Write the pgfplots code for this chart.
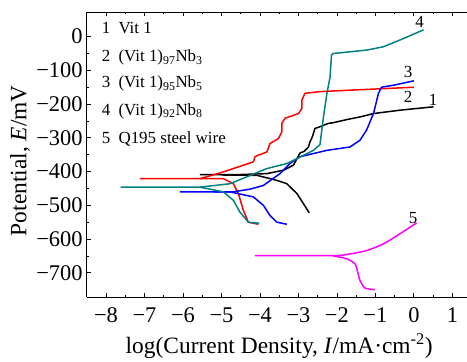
\documentclass[border=0pt]{standalone}
\usepackage{fontspec}
\setmainfont{Liberation Serif}
\usepackage{pgfplots}
\pgfplotsset{compat=1.18}
\definecolor{cteal}{RGB}{0,128,128}
\definecolor{cmag}{RGB}{255,0,255}
\definecolor{cblue}{RGB}{0,0,255}
\definecolor{cred}{RGB}{255,0,0}
\begin{document}
\begin{tikzpicture}
\begin{axis}[name=ax,
  scale only axis, width=380bp, height=285bp,
  xmin=-8.5, xmax=1.38, ymin=-773, ymax=72,
  axis x line=box, axis y line=left,
  axis line style={line width=1.2pt,-},
  tick align=inside, major tick length=4bp, minor tick length=2bp,
  xtick={-8,...,1}, xticklabels={−8,−7,−6,−5,−4,−3,−2,−1,0,1},
  ytick={-700,-600,...,0}, yticklabels={−700,−600,−500,−400,−300,−200,−100,0},
  minor x tick num=1, minor y tick num=1,
  tick style={line width=0.8pt, black},
  ticklabel style={font=\fontsize{22.5}{22.5}\selectfont},
  xticklabel style={anchor=base, yshift=-25bp},
  yticklabel style={anchor=east, xshift=-4bp, inner sep=0pt},
  xlabel={log(Current Density, \textit{I}/mA·cm\textsuperscript{-2})},
  ylabel={Potential, \textit{E}/mV},
  every axis x label/.style={at={(axis description cs:0.506,0)}, anchor=base, yshift=-55.7bp, font=\fontsize{23.5}{23.5}\selectfont},
  every axis y label/.style={at={(axis description cs:0,0.48)}, anchor=center, rotate=90, yshift=66.7bp, font=\fontsize{23.5}{23.5}\selectfont},
  every axis plot/.append style={line width=1.5pt, line join=round},
  clip=false,
]
% Curve 1 black
\addplot[black] coordinates {(-5.56,-409)(-4.6,-409)(-3.82,-406)(-3.39,-396)(-3.13,-381)(-2.96,-345)(-2.85,-340)(-2.74,-327)(-2.70,-312)(-2.65,-300)(-2.61,-287)(-2.57,-272)(-2.44,-267)(-2.22,-257)(-2.09,-255)(-1.75,-246)(-1.40,-238)(-1.05,-228)(-0.36,-218)(0.51,-208)};
\addplot[black] coordinates {(-5.0,-410)(-4.08,-411)(-3.56,-426)(-3.30,-436)(-3.04,-465)(-2.87,-495)(-2.72,-522)};
% Curve 2 red
\addplot[cred] coordinates {(-7.12,-421)(-5.56,-421)(-5.04,-404)(-4.69,-391)(-4.17,-371)(-4.13,-356)(-4.04,-351)(-3.82,-342)(-3.74,-317)(-3.52,-302)(-3.43,-282)(-3.43,-257)(-3.35,-242)(-3.00,-228)(-2.91,-213)(-2.91,-188)(-2.83,-168)(-2.44,-163)(-2.09,-161)(0.0,-150)};
\addplot[cred] coordinates {(-5.56,-421)(-4.95,-421)(-4.69,-436)(-4.56,-465)(-4.43,-515)(-4.30,-550)(-4.04,-556)};
% Curve 3 blue
\addplot[cblue] coordinates {(-6.08,-460)(-4.7,-460)(-4.26,-452)(-3.91,-441)(-3.48,-406)(-3.22,-376)(-2.96,-356)(-2.26,-337)(-1.66,-327)(-1.40,-307)(-1.23,-277)(-1.05,-228)(-0.92,-168)(-0.84,-150)(-0.53,-144)(0.0,-131)};
\addplot[cblue] coordinates {(-5.2,-460)(-4.78,-460)(-4.17,-475)(-3.91,-500)(-3.74,-530)(-3.56,-550)(-3.30,-556)};
% Curve 4 teal
\addplot[cteal] coordinates {(-7.62,-446)(-5.56,-446)(-4.78,-436)(-3.82,-391)(-3.30,-376)(-2.61,-337)(-2.44,-320)(-2.35,-238)(-2.26,-168)(-2.18,-121)(-2.14,-54)(-2.09,-50)(-1.23,-40)(-0.79,-30)(-0.36,-10)(0.25,20)};
\addplot[cteal] coordinates {(-5.56,-446)(-4.95,-460)(-4.69,-485)(-4.52,-520)(-4.30,-550)(-4.02,-553)};
% Curve 5 magenta
\addplot[cmag, smooth, tension=0.4] coordinates {(-4.13,-649)(-2.09,-649)(-1.66,-644)(-1.23,-634)(-0.79,-614)(-0.36,-584)(0.07,-552)};
\addplot[cmag, smooth, tension=0.4] coordinates {(-2.09,-650)(-1.75,-658)(-1.53,-673)(-1.47,-693)(-1.40,-723)(-1.27,-745)(-1.01,-750)};
% curve numbers
\begin{scope}[every node/.style={font=\fontsize{17}{17}\selectfont, inner sep=0pt}]
\node at (axis cs:0.15,44) {4};
\node at (axis cs:-0.15,-105) {3};
\node at (axis cs:-0.15,-179) {2};
\node at (axis cs:0.5,-188) {1};
\node at (axis cs:-0.02,-539) {5};
\end{scope}
% legend text
\begin{scope}[every node/.style={anchor=base west, font=\fontsize{17}{17}\selectfont, inner sep=0pt}]
\node at (axis cs:-8.11,8) {1};
\node at (axis cs:-7.68,8) {Vit 1};
\node at (axis cs:-8.11,-75) {2};
\node at (axis cs:-7.68,-75) {(Vit 1)\textsubscript{97}Nb\textsubscript{3}};
\node at (axis cs:-8.11,-152) {3};
\node at (axis cs:-7.68,-152) {(Vit 1)\textsubscript{95}Nb\textsubscript{5}};
\node at (axis cs:-8.11,-233) {4};
\node at (axis cs:-7.68,-233) {(Vit 1)\textsubscript{92}Nb\textsubscript{8}};
\node at (axis cs:-8.11,-316) {5};
\node at (axis cs:-7.68,-316) {Q195 steel wire};
\end{scope}
\end{axis}
\pgfresetboundingbox
\path[use as bounding box] ([shift={(-86.7bp,-64bp)}]ax.south west) rectangle ([shift={(0bp,12.3bp)}]ax.north east);
\end{tikzpicture}
\end{document}
